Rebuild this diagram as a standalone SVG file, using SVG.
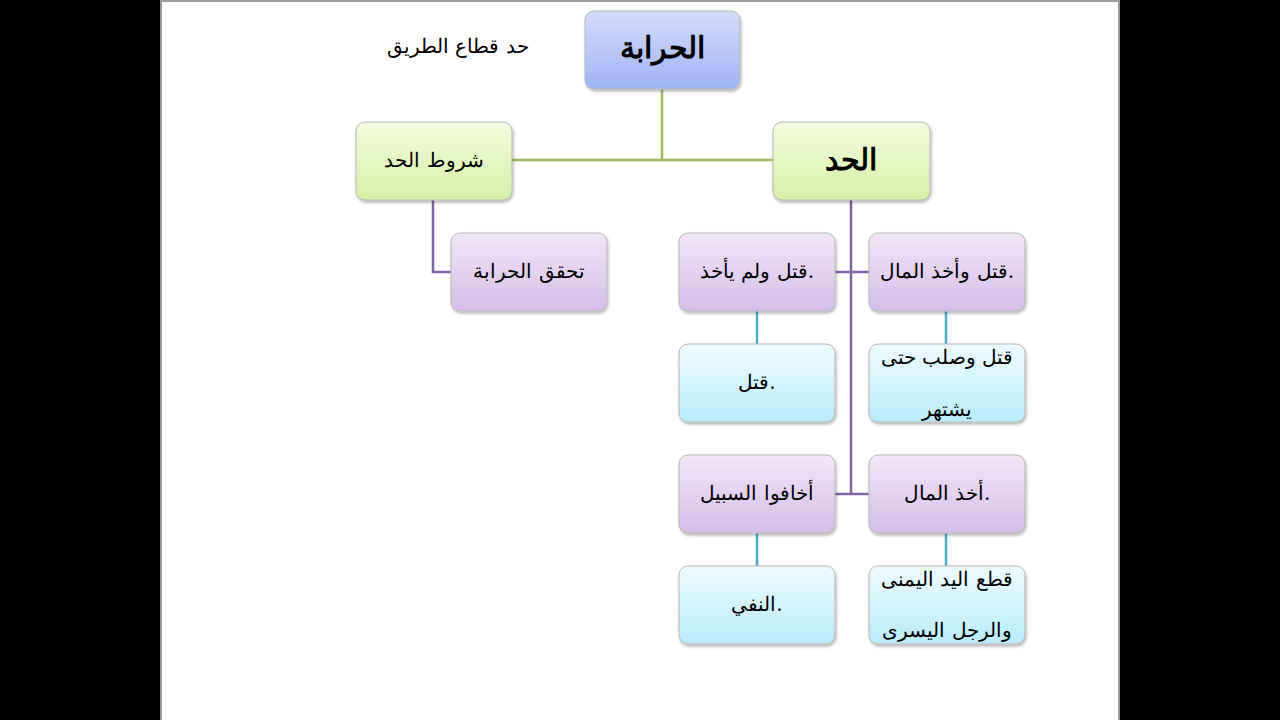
<svg xmlns="http://www.w3.org/2000/svg" width="1280" height="720" viewBox="0 0 1280 720">
<defs>
<linearGradient id="gb" x1="0" y1="0" x2="0" y2="1"><stop offset="0" stop-color="#d3dcfb"/><stop offset="1" stop-color="#9fb4f3"/></linearGradient>
<linearGradient id="gg" x1="0" y1="0" x2="0" y2="1"><stop offset="0" stop-color="#f3fbdf"/><stop offset="1" stop-color="#d6f0a6"/></linearGradient>
<linearGradient id="gp" x1="0" y1="0" x2="0" y2="1"><stop offset="0" stop-color="#f2e6f8"/><stop offset="1" stop-color="#d6bde9"/></linearGradient>
<linearGradient id="gc" x1="0" y1="0" x2="0" y2="1"><stop offset="0" stop-color="#eefbfe"/><stop offset="1" stop-color="#b9ecfb"/></linearGradient>
<filter id="sh" x="-10%" y="-10%" width="130%" height="140%"><feDropShadow dx="1" dy="2" stdDeviation="1.5" flood-color="#000" flood-opacity="0.3"/></filter>
</defs>
<style>
.b{stroke:#b8b8b8;stroke-width:1;filter:url(#sh)}
text{font-family:"DejaVu Serif","Liberation Serif",serif;text-anchor:middle;fill:#000}
.t{font-size:20px}
.L{font-size:30px;font-weight:bold}
.g{stroke:#9bbb59;stroke-width:2.5;fill:none}
.p{stroke:#8064a2;stroke-width:2.5;fill:none}
.c{stroke:#4bacc6;stroke-width:2.5;fill:none}
</style>
<rect width="1280" height="720" fill="#000"/>
<rect x="160" y="0" width="960" height="720" fill="#fff"/>
<line x1="160" y1="1" x2="1120" y2="1" stroke="#999" stroke-width="2"/>
<line x1="161" y1="0" x2="161" y2="720" stroke="#999" stroke-width="2"/>
<line x1="1119" y1="0" x2="1119" y2="720" stroke="#999" stroke-width="2"/>
<text x="458" y="53" class="t">حد قطاع الطريق</text>
<g id="connectors">
<path class="g" d="M662 89V160M512 160H773"/>
<path class="p" d="M851 200V494M835 272H869M835 494H869M433 200V272H451"/>
<path class="c" d="M757 311V344M946 311V344M757 533V566M946 533V566"/>
</g>
<g id="n1"><rect class="b" x="585" y="11" width="155" height="78" rx="9" fill="url(#gb)"/><text x="662" y="58" class="L">الحرابة</text></g>
<g id="n2"><rect class="b" x="773" y="122" width="157" height="78" rx="9" fill="url(#gg)"/><text x="851" y="170" class="L">الحد</text></g>
<g id="n3"><rect class="b" x="356" y="122" width="156" height="78" rx="9" fill="url(#gg)"/><text x="434" y="167" class="t">شروط الحد</text></g>
<g id="n4"><rect class="b" x="451" y="233" width="156" height="78" rx="9" fill="url(#gp)"/><text x="529" y="278" class="t">تحقق الحرابة</text></g>
<g id="n5"><rect class="b" x="679" y="233" width="156" height="78" rx="9" fill="url(#gp)"/><text x="757" y="278" class="t">قتل ولم يأخذ.</text></g>
<g id="n6"><rect class="b" x="869" y="233" width="156" height="78" rx="9" fill="url(#gp)"/><text x="947" y="278" class="t">قتل وأخذ المال.</text></g>
<g id="n7"><rect class="b" x="679" y="344" width="156" height="78" rx="9" fill="url(#gc)"/><text x="757" y="389" class="t">قتل.</text></g>
<g id="n8"><rect class="b" x="869" y="344" width="156" height="78" rx="9" fill="url(#gc)"/><text x="947" y="364" class="t">قتل وصلب حتى</text><text x="947" y="416" class="t">يشتهر</text></g>
<g id="n9"><rect class="b" x="679" y="455" width="156" height="78" rx="9" fill="url(#gp)"/><text x="757" y="500" class="t">أخافوا السبيل</text></g>
<g id="n10"><rect class="b" x="869" y="455" width="156" height="78" rx="9" fill="url(#gp)"/><text x="947" y="500" class="t">أخذ المال.</text></g>
<g id="n11"><rect class="b" x="679" y="566" width="156" height="78" rx="9" fill="url(#gc)"/><text x="757" y="611" class="t">النفي.</text></g>
<g id="n12"><rect class="b" x="869" y="566" width="156" height="78" rx="9" fill="url(#gc)"/><text x="947" y="586" class="t">قطع اليد اليمنى</text><text x="947" y="637" class="t">والرجل اليسرى</text></g>
</svg>
